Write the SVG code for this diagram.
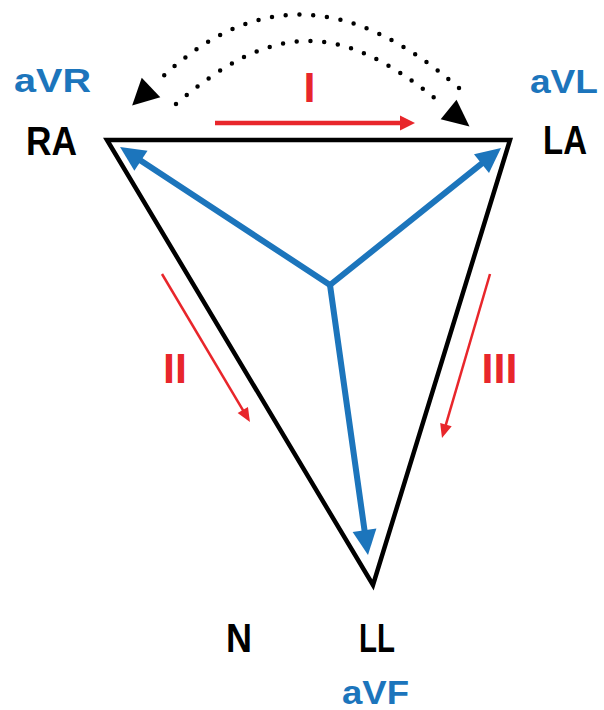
<svg xmlns="http://www.w3.org/2000/svg" width="604" height="710" viewBox="0 0 604 710">
<style>
.lbl{font-family:"Liberation Sans",Arial,sans-serif;font-weight:bold}
.blk{fill:#000;font-size:41px}
.blu{fill:#1c75bc;font-size:34px}
.red{fill:#e8262b;font-size:43px}
.tri{fill:none;stroke:#000;stroke-width:4.5;stroke-linejoin:miter}
.vec{fill:none;stroke:#1c75bc;stroke-width:6;stroke-linecap:round}
.lead{fill:none;stroke:#e8262b}
.dots{fill:none;stroke:#000;stroke-width:4.5;stroke-linecap:round;stroke-dasharray:0 13.8}
</style>
<defs>
<marker id="mBlue" markerUnits="userSpaceOnUse" markerWidth="1" markerHeight="1" refX="0" refY="0" orient="auto" overflow="visible"><path d="M-15,-12 L10,0 L-15,12 z" fill="#1c75bc"/></marker>
<marker id="mRedBig" markerUnits="userSpaceOnUse" markerWidth="1" markerHeight="1" refX="0" refY="0" orient="auto" overflow="visible"><path d="M-9,-7.5 L6,0 L-9,7.5 z" fill="#e8262b"/></marker>
<marker id="mRedSmall" markerUnits="userSpaceOnUse" markerWidth="1" markerHeight="1" refX="0" refY="0" orient="auto" overflow="visible"><path d="M-9,-6 L5,0 L-9,6 z" fill="#e8262b"/></marker>
<marker id="mDotOuter" markerUnits="userSpaceOnUse" markerWidth="1" markerHeight="1" refX="0" refY="0" orient="auto" overflow="visible"><path d="M11,-13.5 L37,0 L11,13.5 z" fill="#000"/></marker>
<marker id="mDotInner" markerUnits="userSpaceOnUse" markerWidth="1" markerHeight="1" refX="0" refY="0" orient="auto" overflow="visible"><path d="M15,-12.5 L42,0 L15,12.5 z" fill="#000"/></marker>
</defs>
<rect width="604" height="710" fill="#fff"/>
<g id="triangle"><polygon class="tri" points="107,140 510,140 373,585"/></g>
<g id="connectors">
<path class="vec" d="M330,285 L128.4,152.5" marker-end="url(#mBlue)"/>
<path class="vec" d="M330,285 L493.2,154.3" marker-end="url(#mBlue)"/>
<path class="vec" d="M330,285 L366.6,545.1" marker-end="url(#mBlue)"/>
<path class="lead" stroke-width="4.5" d="M215,123 L409,123" marker-end="url(#mRedBig)"/>
<path class="lead" stroke-width="2.5" d="M162,274 L247.4,417.7" marker-end="url(#mRedSmall)"/>
<path class="lead" stroke-width="2.5" d="M490,274 L443.4,433.2" marker-end="url(#mRedSmall)"/>
<path class="dots" d="M459,88 C350,-7 254,-10 159,80" marker-end="url(#mDotOuter)"/>
<path class="dots" d="M176,104 C273,20.7 340,20.7 437,100" marker-end="url(#mDotInner)"/>
</g>
<g id="node-RA"><text class="lbl blu" x="14" y="92" textLength="77" lengthAdjust="spacingAndGlyphs">aVR</text><text class="lbl blk" x="26" y="155" textLength="51" lengthAdjust="spacingAndGlyphs">RA</text></g>
<g id="node-LA"><text class="lbl blu" x="530" y="93" textLength="68" lengthAdjust="spacingAndGlyphs">aVL</text><text class="lbl blk" x="543" y="154" textLength="44" lengthAdjust="spacingAndGlyphs">LA</text></g>
<g id="node-LL"><text class="lbl blk" x="359" y="652" textLength="36" lengthAdjust="spacingAndGlyphs">LL</text><text class="lbl blu" x="342" y="704" font-size="35" textLength="67" lengthAdjust="spacingAndGlyphs">aVF</text></g>
<g id="node-N"><text class="lbl blk" x="226" y="652" textLength="26" lengthAdjust="spacingAndGlyphs">N</text></g>
<g id="lead-labels">
<text class="lbl red" x="309.5" y="102" text-anchor="middle">I</text>
<text class="lbl red" x="175" y="383" text-anchor="middle">II</text>
<text class="lbl red" x="499.5" y="383" text-anchor="middle">III</text>
</g>
</svg>
